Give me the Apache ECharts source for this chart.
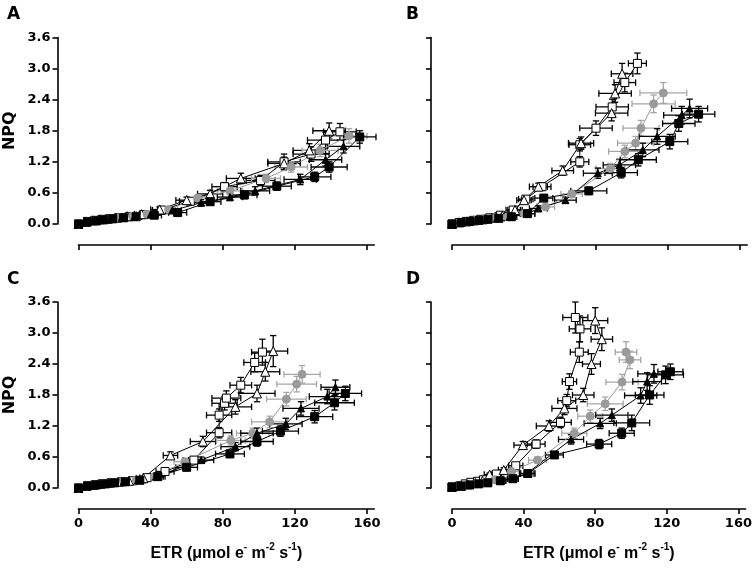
<!DOCTYPE html>
<html><head><meta charset="utf-8">
<script src="https://cdn.jsdelivr.net/npm/echarts@6/dist/echarts.min.js"></script>
<style>html,body{margin:0;padding:0;background:#fff}#c{width:755px;height:568px}</style>
</head><body><div id="c"></div>
<script>
// Tick labels
const xTicks = [0, 40, 80, 120, 160];
const yTicks = [0, 0.6, 1.2, 1.8, 2.4, 3.0, 3.6];
const panelLabels = ['A', 'B', 'C', 'D'];
const seriesNames = ['open square', 'open triangle', 'grey circle', 'filled triangle', 'filled square'];

// Rows: [ETR, NPQ, ETR error, NPQ error]
const A_openSquare = [[0,0,0.5,0.01],[5,0.05,1,0.02],[9,0.07,1.5,0.02],[13,0.09,2,0.02],[17,0.10,2,0.03],[22,0.12,3,0.03],[28,0.14,3,0.03],[36,0.18,4,0.04],[46,0.27,5,0.05],[62,0.44,6,0.06],[81,0.72,7,0.08],[101,0.84,8,0.1],[114,1.20,9,0.15],[129,1.35,10,0.14],[137,1.62,10,0.15],[145,1.78,9,0.16]];
const A_openTriangle = [[0,0,0.5,0.01],[4,0.04,1,0.02],[8,0.07,1.5,0.02],[12,0.09,2,0.02],[16,0.10,2,0.03],[21,0.12,3,0.03],[27,0.15,3,0.03],[35,0.19,4,0.04],[45,0.28,5,0.05],[60,0.46,6,0.06],[73,0.58,7,0.07],[90,0.88,8,0.1],[114,1.17,9,0.12],[128,1.42,9,0.13],[139,1.80,9,0.15]];
const A_greyCircle = [[0,0,0.5,0.01],[5,0.04,1,0.02],[9,0.06,1.5,0.02],[13,0.08,2,0.02],[18,0.10,2,0.03],[23,0.12,3,0.03],[30,0.15,3,0.03],[38,0.19,4,0.04],[50,0.28,5,0.05],[66,0.50,6,0.06],[84,0.64,7,0.07],[104,0.88,8,0.08],[118,1.10,9,0.1],[134,1.42,10,0.12],[150,1.70,10,0.14]];
const A_filledTriangle = [[0,0,0.5,0.01],[5,0.04,1,0.02],[9,0.06,1.5,0.02],[14,0.08,2,0.02],[18,0.10,2,0.03],[24,0.12,3,0.03],[31,0.14,3,0.03],[40,0.18,4,0.04],[52,0.26,5,0.05],[68,0.41,6,0.06],[84,0.52,7,0.07],[98,0.64,8,0.08],[123,0.86,9,0.1],[137,1.24,9,0.12],[147,1.50,9,0.13]];
const A_filledSquare = [[0,0,0.5,0.01],[5,0.04,1,0.02],[10,0.06,1.5,0.02],[14,0.08,2,0.02],[19,0.10,2,0.03],[25,0.12,3,0.03],[32,0.14,3,0.03],[42,0.17,4,0.04],[55,0.22,5,0.05],[73,0.43,6,0.06],[92,0.56,7,0.07],[110,0.73,8,0.08],[131,0.91,9,0.09],[139,1.10,10,0.1],[156,1.68,9,0.12]];

const B_openSquare = [[0,0,0.5,0.01],[4,0.03,1,0.01],[8,0.05,1.5,0.02],[12,0.07,2,0.02],[16,0.09,2,0.02],[21,0.12,3,0.03],[27,0.17,3,0.03],[34,0.27,4,0.04],[41,0.48,4,0.05],[50,0.72,5,0.07],[71,1.20,5,0.1],[71,1.53,6,0.12],[80,1.85,9,0.14],[89,2.26,9,0.15],[96,2.73,6,0.18],[103,3.10,5,0.2]];
const B_openTriangle = [[0,0,0.5,0.01],[4,0.03,1,0.01],[8,0.05,1.5,0.02],[12,0.07,2,0.02],[17,0.09,2,0.02],[22,0.12,3,0.03],[28,0.16,3,0.03],[35,0.27,4,0.04],[40,0.46,4,0.05],[48,0.72,5,0.07],[61.5,1.03,6,0.09],[71.7,1.56,7,0.12],[88.7,2.14,9,0.15],[90.6,2.52,9,0.17],[94.5,2.90,6,0.2]];
const B_greyCircle = [[0,0,0.5,0.01],[5,0.03,1,0.01],[9,0.05,1.5,0.02],[13,0.07,2,0.02],[18,0.09,2,0.02],[24,0.11,3,0.03],[31,0.14,3,0.03],[40,0.20,4,0.04],[52,0.33,5,0.05],[66.5,0.58,6,0.07],[88,1.07,8,0.1],[96,1.40,9,0.12],[102,1.56,10,0.13],[105,1.85,10,0.15],[112,2.32,12,0.17],[117.4,2.53,13,0.2]];
const B_filledTriangle = [[0,0,0.5,0.01],[5,0.03,1,0.01],[9,0.05,1.5,0.02],[14,0.07,2,0.02],[19,0.09,2,0.02],[25,0.11,3,0.03],[32,0.14,3,0.03],[42,0.20,4,0.04],[48,0.30,5,0.05],[63,0.46,6,0.06],[81,0.98,8,0.1],[93,1.14,9,0.11],[106,1.43,9,0.13],[114,1.69,10,0.15],[127.6,2.10,10,0.17],[132,2.23,10,0.18]];
const B_filledSquare = [[0,0,0.5,0.01],[5,0.03,1,0.01],[10,0.05,1.5,0.02],[15,0.07,2,0.02],[20,0.09,2,0.02],[26,0.11,3,0.03],[33,0.14,3,0.03],[42,0.20,4,0.04],[51,0.50,5,0.06],[76,0.64,10,0.07],[94,0.99,9,0.1],[103.5,1.24,10,0.12],[121,1.59,10,0.14],[126,1.94,9,0.15],[137,2.12,9,0.15]];

const C_openSquare = [[0,0,0.5,0.01],[5,0.04,1,0.02],[9,0.06,1.5,0.02],[13,0.08,2,0.02],[18,0.10,2,0.03],[24,0.12,3,0.03],[30,0.14,3,0.03],[38,0.20,4,0.04],[48,0.32,5,0.05],[64,0.54,6,0.06],[78,1.07,7,0.1],[78,1.41,7,0.12],[81,1.64,7,0.13],[82,1.74,8,0.14],[90,1.99,6,0.15],[97.7,2.43,6,0.18],[102,2.63,6,0.25]];
const C_openTriangle = [[0,0,0.5,0.01],[4,0.04,1,0.02],[8,0.06,1.5,0.02],[12,0.08,2,0.02],[17,0.10,2,0.03],[22,0.12,3,0.03],[28,0.14,3,0.03],[36,0.19,4,0.04],[51,0.63,4,0.07],[69,0.90,7,0.1],[87,1.57,9,0.14],[99,1.83,10,0.16],[103.6,2.25,8,0.18],[108,2.65,8,0.3]];
const C_greyCircle = [[0,0,0.5,0.01],[5,0.04,1,0.02],[9,0.06,1.5,0.02],[14,0.08,2,0.02],[19,0.10,2,0.03],[25,0.12,3,0.03],[32,0.15,3,0.03],[42,0.22,4,0.04],[59,0.51,6,0.06],[84.5,0.92,8,0.09],[96.6,1.06,9,0.1],[106,1.28,10,0.11],[115.3,1.72,11,0.13],[121,2.01,11,0.15],[124,2.20,10,0.17]];
const C_filledTriangle = [[0,0,0.5,0.01],[5,0.04,1,0.02],[10,0.06,1.5,0.02],[14,0.08,2,0.02],[19,0.10,2,0.03],[25,0.12,3,0.03],[33,0.15,3,0.03],[43,0.22,4,0.04],[68,0.54,7,0.06],[87,0.80,8,0.08],[99,1.06,9,0.1],[115,1.24,9,0.11],[123.4,1.54,10,0.13],[138,1.77,10,0.14],[142.5,1.95,8,0.14]];
const C_filledSquare = [[0,0,0.5,0.01],[5,0.04,1,0.02],[10,0.06,1.5,0.02],[15,0.08,2,0.02],[20,0.10,2,0.03],[26,0.12,3,0.03],[34,0.15,3,0.03],[44,0.22,4,0.04],[60,0.40,6,0.05],[84,0.66,8,0.07],[99,0.90,9,0.09],[112,1.10,10,0.1],[131,1.38,10,0.12],[142,1.65,11,0.14],[148,1.83,9,0.14]];

const D_openSquare = [[0,0.02,0.5,0.01],[4.3,0.04,1,0.01],[7.4,0.08,1,0.02],[10.5,0.11,1.5,0.02],[14.2,0.13,2,0.02],[17.6,0.16,2,0.03],[24.8,0.27,3,0.04],[35.6,0.43,4,0.05],[47,0.85,5,0.08],[60.6,1.27,6,0.1],[64.1,1.69,5,0.12],[65.6,2.06,4,0.15],[71.1,2.63,5,0.2],[71.5,3.08,6,0.25],[68.9,3.30,7,0.3]];
const D_openTriangle = [[0,0.02,0.5,0.01],[5,0.04,1,0.01],[9,0.07,1.5,0.02],[13,0.10,2,0.02],[17,0.14,2,0.03],[21,0.26,3,0.03],[28.9,0.35,3,0.04],[39.6,0.83,5,0.07],[54.1,1.20,7,0.1],[62.8,1.54,7,0.12],[73.3,1.80,6,0.13],[77.9,2.40,5,0.2],[83.7,2.88,6,0.22],[80,3.24,7,0.25]];
const D_greyCircle = [[0,0.02,0.5,0.01],[5,0.04,1,0.01],[9,0.06,1.5,0.02],[13,0.08,2,0.02],[18,0.11,2,0.03],[24,0.16,3,0.03],[33.3,0.32,4,0.04],[47.8,0.54,5,0.06],[68.3,1.06,7,0.1],[77.2,1.39,7,0.12],[85.6,1.63,10,0.13],[95,2.05,9,0.15],[99.4,2.48,6,0.17],[97.2,2.63,6,0.2]];
const D_filledTriangle = [[0,0.02,0.5,0.01],[5,0.04,1,0.01],[10,0.06,1.5,0.02],[15,0.08,2,0.02],[20,0.10,2,0.03],[27,0.14,3,0.03],[34,0.18,3,0.04],[41.8,0.28,4,0.05],[66.5,0.94,7,0.09],[82.8,1.25,9,0.1],[89.3,1.41,9,0.12],[105.4,1.79,9,0.15],[109,2.06,8,0.17],[112.8,2.21,9,0.18]];
const D_filledSquare = [[0,0.02,0.5,0.01],[5,0.04,1,0.01],[10,0.06,1.5,0.02],[15,0.08,2,0.02],[20,0.10,2,0.03],[27,0.14,3,0.03],[34,0.18,3,0.04],[42.4,0.28,4,0.05],[57.2,0.64,5,0.06],[82.2,0.85,7,0.09],[94.8,1.06,7,0.1],[100.4,1.26,10,0.15],[110.4,1.80,8,0.18],[119.3,2.19,10,0.17],[122,2.25,7,0.15]];

const panels = [
  [A_openSquare, A_openTriangle, A_greyCircle, A_filledTriangle, A_filledSquare],
  [B_openSquare, B_openTriangle, B_greyCircle, B_filledTriangle, B_filledSquare],
  [C_openSquare, C_openTriangle, C_greyCircle, C_filledTriangle, C_filledSquare],
  [D_openSquare, D_openTriangle, D_greyCircle, D_filledTriangle, D_filledSquare]
];

const FONT = 'DejaVu Sans';
const TFONT = 'Liberation Sans';
const styles = [
  {symbol: 'rect', size: 8, fill: '#fff', stroke: '#000', line: '#000', err: '#000'},
  {symbol: 'triangle', size: 9, fill: '#fff', stroke: '#000', line: '#000', err: '#000'},
  {symbol: 'circle', size: 8, fill: '#9a9a9a', stroke: '#9a9a9a', line: '#9a9a9a', err: '#a6a6a6'},
  {symbol: 'triangle', size: 7, fill: '#000', stroke: '#000', line: '#000', err: '#000'},
  {symbol: 'rect', size: 8, fill: '#000', stroke: '#000', line: '#000', err: '#000'}
];

const grids = [
  {left: 78.5, top: 37.5, width: 295.7, height: 186.5},
  {left: 452, top: 37.5, width: 295.2, height: 186.5},
  {left: 78.5, top: 302, width: 295.7, height: 186},
  {left: 452, top: 302, width: 295.2, height: 186}
];

function errRender(color) {
  return function (params, api) {
    const x = api.value(0), y = api.value(1), ex = api.value(2), ey = api.value(3);
    const c = api.coord([x, y]);
    const l = api.coord([x - ex, y]);
    const r = api.coord([x + ex, y]);
    const t = api.coord([x, y + ey]);
    const b = api.coord([x, y - ey]);
    const cap = 3.2;
    const st = {stroke: color, lineWidth: 1.3};
    const ln = (x1, y1, x2, y2) => ({type: 'line', shape: {x1, y1, x2, y2}, style: st});
    return {type: 'group', children: [
      ln(l[0], c[1], r[0], c[1]),
      ln(l[0], c[1] - cap, l[0], c[1] + cap),
      ln(r[0], c[1] - cap, r[0], c[1] + cap),
      ln(c[0], t[1], c[0], b[1]),
      ln(c[0] - cap, t[1], c[0] + cap, t[1]),
      ln(c[0] - cap, b[1], c[0] + cap, b[1])
    ]};
  };
}

const axisLineStyle = {color: '#000', width: 1.6};
const xAxes = [], yAxes = [], series = [];
grids.forEach((g, i) => {
  const bottomRow = i >= 2;
  const leftCol = i % 2 === 0;
  xAxes.push({
    type: 'value', gridIndex: i, min: 0, max: 164, offset: 21,
    axisLine: {show: true, onZero: false, lineStyle: axisLineStyle},
    axisTick: {show: true, customValues: xTicks, length: 5, lineStyle: axisLineStyle},
    axisLabel: {show: bottomRow, customValues: xTicks, margin: 8, color: '#000',
      fontFamily: FONT, fontWeight: 'bold', fontSize: 13},
    splitLine: {show: false},
    name: bottomRow ? '{b|ETR (\u03bcmol e}{s|-}{b| m}{s|-2}{b| s}{s|-1}{b|)}' : '',
    nameLocation: 'middle', nameGap: 33,
    nameTextStyle: {color: '#000', fontFamily: TFONT, fontWeight: 'bold', fontSize: 16,
      rich: {
        b: {fontFamily: TFONT, fontWeight: 'bold', fontSize: 16, lineHeight: 24, color: '#000'},
        s: {fontFamily: TFONT, fontWeight: 'bold', fontSize: 10, lineHeight: 12, verticalAlign: 'top', color: '#000'}
      }}
  });
  yAxes.push({
    type: 'value', gridIndex: i, min: 0, max: 3.6, interval: 0.6, offset: 21,
    axisLine: {show: true, onZero: false, lineStyle: axisLineStyle},
    axisTick: {show: true, length: 5, lineStyle: axisLineStyle},
    axisLabel: {show: leftCol, margin: 7, color: '#000', fontFamily: FONT, fontWeight: 'bold', fontSize: 13,
      formatter: v => v.toFixed(1)},
    splitLine: {show: false},
    name: leftCol ? 'NPQ' : '', nameLocation: 'middle', nameRotate: 90, nameGap: 40,
    nameTextStyle: {color: '#000', fontFamily: FONT, fontWeight: 'bold', fontSize: 16}
  });
  panels[i].forEach((data, k) => {
    const s = styles[k];
    series.push({
      type: 'custom', name: seriesNames[k], xAxisIndex: i, yAxisIndex: i, data: data,
      renderItem: errRender(s.err), z: 2, silent: true
    });
  });
  panels[i].forEach((data, k) => {
    const s = styles[k];
    series.push({
      type: 'line', name: seriesNames[k], xAxisIndex: i, yAxisIndex: i,
      data: data.map(r => [r[0], r[1]]),
      symbol: s.symbol, symbolSize: s.size, showSymbol: true, clip: false,
      lineStyle: {color: s.line, width: 1},
      itemStyle: {color: s.fill, borderColor: s.stroke, borderWidth: 1},
      z: 3, silent: true
    });
  });
});

const titles = panelLabels.map((t, i) => ({
  text: t, left: i % 2 === 0 ? 2 : 401, top: i < 2 ? 1 : 266,
  textStyle: {fontFamily: FONT, fontWeight: 'bold', fontSize: 17, color: '#000'}
}));

const chart = echarts.init(document.getElementById('c'), null, {renderer: 'canvas'});
chart.setOption({
  animation: false,
  backgroundColor: '#fff',
  title: titles,
  grid: grids,
  xAxis: xAxes,
  yAxis: yAxes,
  series: series
});
</script></body></html>
